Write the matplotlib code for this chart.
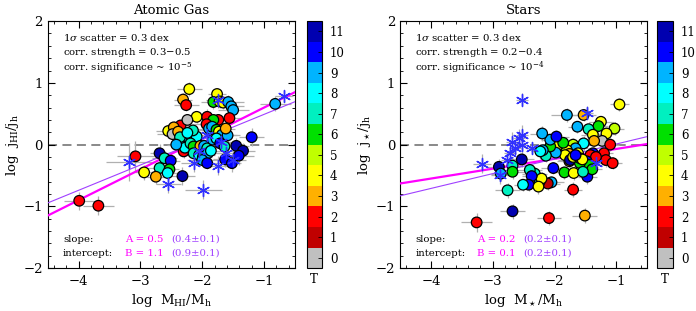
import matplotlib
matplotlib.use("Agg")
import matplotlib.pyplot as plt
from matplotlib.colors import ListedColormap, BoundaryNorm
from matplotlib.ticker import MultipleLocator
import numpy as np

plt.rcParams['font.family'] = ['DejaVu Serif']
plt.rcParams['mathtext.fontset'] = 'dejavuserif'

# ---------------- data ----------------
t_colors = ['#c0c0c0', '#c00000', '#ff0000', '#ffb000', '#ffff00', '#c0ff00',
            '#00e000', '#00f0c0', '#00ffff', '#00b4ff', '#0000ff', '#0000b0']
t_ticks = list(range(12))

# Atomic gas panel: circles
hi_x = [-2.21, -2.31, -2.26, -1.76, -1.82, -1.72, -1.66, -1.58, -1.53, -1.50,
        -2.09, -1.92, -1.74, -1.56, -1.82, -1.93, -2.35, -2.24, -2.55, -2.46,
        -2.48, -2.39, -2.21, -2.09, -2.15, -2.33, -2.31, -2.30, -2.28, -2.19,
        -2.14, -2.03, -1.97, -1.92, -2.14, -2.05, -1.99, -1.91, -2.00, -1.92,
        -1.89, -1.84, -1.77, -1.73, -1.68, -1.59, -1.62, -1.83, -1.77, -1.71,
        -1.64, -2.69, -2.61, -2.51, -2.69, -2.53, -2.56, -2.75, -2.94, -2.32,
        -3.08, -3.99, -3.68, -0.82, -1.20, -1.45, -1.34, -1.41, -1.63, -1.52,
        -1.86, -2.36, -2.24, -2.42]
hi_y = [0.90, 0.73, 0.64, 0.82, 0.69, 0.70, 0.68, 0.69, 0.62, 0.56,
        0.45, 0.45, 0.40, 0.43, 0.40, 0.33, 0.31, 0.40, 0.22, 0.28,
        0.17, 0.21, 0.14, 0.13, 0.23, 0.06, -0.03, -0.11, -0.05, 0.02,
        -0.03, -0.02, -0.02, -0.06, -0.14, -0.17, -0.20, -0.14, -0.25, -0.30,
        0.26, 0.29, 0.24, 0.21, 0.16, 0.15, 0.26, 0.08, 0.10, 0.02,
        -0.03, -0.14, -0.22, -0.26, -0.38, -0.40, -0.46, -0.52, -0.45, -0.51,
        -0.19, -0.91, -0.99, 0.66, 0.12, -0.02, -0.10, -0.18, -0.24, -0.30,
        -0.10, 0.12, 0.19, 0.00]
hi_t = [4, 3, 2, 4, 6, 5, 4, 9, 9, 9,
        4, 2, 2, 2, 6, 2, 2, 0, 4, 3,
        0, 3, 2, 8, 7, 9, 9, 2, 8, 7,
        6, 3, 9, 7, 7, 8, 6, 9, 9, 10,
        9, 9, 6, 4, 9, 9, 3, 9, 8, 10,
        7, 11, 7, 10, 7, 6, 8, 3, 4, 11,
        2, 2, 2, 9, 10, 11, 11, 10, 10, 10,
        8, 7, 8, 9]
hi_xerr = [0.20, 0.15, 0.20, 0.15, 0.20, 0.15, 0.20, 0.25, 0.20, 0.25,
           0.15, 0.20, 0.15, 0.20, 0.15, 0.20, 0.20, 0.15, 0.20, 0.15,
           0.25, 0.20, 0.20, 0.15, 0.20, 0.15, 0.20, 0.15, 0.20, 0.15,
           0.20, 0.25, 0.20, 0.15, 0.20, 0.25, 0.15, 0.20, 0.25, 0.20,
           0.20, 0.15, 0.20, 0.15, 0.25, 0.20, 0.15, 0.20, 0.15, 0.20,
           0.20, 0.15, 0.20, 0.15, 0.20, 0.15, 0.20, 0.15, 0.15, 0.20,
           0.30, 0.25, 0.25, 0.25, 0.20, 0.20, 0.20, 0.25, 0.20, 0.15,
           0.20, 0.15, 0.20, 0.15]
hi_yerr = [0.12, 0.10, 0.10, 0.10, 0.12, 0.10, 0.10, 0.12, 0.10, 0.10,
           0.10, 0.12, 0.10, 0.10, 0.10, 0.12, 0.10, 0.10, 0.12, 0.10,
           0.10, 0.10, 0.12, 0.10, 0.10, 0.12, 0.10, 0.10, 0.12, 0.10,
           0.10, 0.12, 0.10, 0.10, 0.12, 0.10, 0.10, 0.12, 0.10, 0.10,
           0.10, 0.12, 0.10, 0.10, 0.12, 0.10, 0.10, 0.12, 0.10, 0.10,
           0.12, 0.15, 0.12, 0.12, 0.12, 0.15, 0.12, 0.12, 0.12, 0.15,
           0.25, 0.15, 0.15, 0.12, 0.15, 0.12, 0.12, 0.15, 0.12, 0.15,
           0.10, 0.10, 0.12, 0.10]

# Atomic gas panel: asterisks
hi_sx = [-3.18, -2.55, -1.98, -0.68, -1.74, -1.74, -2.14, -1.92, -1.69, -1.50, -1.61, -2.05]
hi_sy = [-0.28, -0.64, -0.73, 0.79, 0.72, -0.34, -0.30, 0.16, 0.05, -0.25, -0.14, -0.11]
hi_sxerr = [0.37, 0.20, 0.30, 0.15, 0.20, 0.20, 0.20, 0.15, 0.20, 0.20, 0.15, 0.20]
hi_syerr = [0.31, 0.15, 0.15, 0.10, 0.12, 0.15, 0.15, 0.12, 0.12, 0.15, 0.12, 0.12]

# Stars panel: circles
st_x = [-0.95, -1.03, -1.25, -1.29, -1.53, -1.45, -1.38, -1.16, -1.23, -1.10,
        -1.20, -1.17, -1.06, -1.36, -1.53, -1.38, -1.42, -1.33, -1.48, -1.49,
        -1.47, -1.44, -1.39, -1.59, -1.70, -1.66, -1.62, -1.59, -1.55, -1.80,
        -1.63, -1.80, -1.76, -1.76, -1.83, -1.75, -1.70, -1.66, -1.94, -1.86,
        -1.98, -2.07, -2.07, -1.97, -2.20, -2.14, -2.19, -2.23, -2.02, -1.84,
        -1.69, -1.54, -2.05, -1.70, -2.11, -2.32, -2.24, -2.21, -2.40, -2.37,
        -2.42, -2.51, -2.26, -2.53, -2.68, -2.68, -2.90, -2.87, -2.76, -2.68,
        -3.26, -2.09, -1.51]
st_y = [0.65, 0.26, 0.37, 0.30, 0.48, 0.25, 0.16, 0.18, 0.06, 0.00,
        -0.14, -0.25, -0.30, 0.06, 0.02, -0.14, -0.17, -0.20, -0.27, -0.36,
        -0.52, -0.33, -0.40, -0.30, 0.00, -0.06, -0.14, -0.22, -0.24, 0.48,
        0.29, -0.09, -0.15, -0.27, -0.17, -0.25, -0.20, -0.17, 0.00, 0.03,
        -0.13, -0.03, 0.08, 0.13, 0.18, -0.18, -0.09, -0.11, -0.38, -0.45,
        -0.46, -0.44, -0.61, -0.73, -0.63, -0.47, -0.60, -0.55, -0.41, -0.51,
        -0.65, -0.65, -0.68, -0.24, -0.34, -0.44, -0.36, -0.47, -0.74, -1.08,
        -1.26, -1.19, -1.15]
st_t = [4, 5, 4, 6, 3, 7, 4, 4, 0, 2,
        2, 2, 2, 3, 8, 10, 2, 2, 10, 2,
        10, 6, 6, 6, 5, 9, 4, 4, 4, 9,
        9, 4, 3, 3, 4, 11, 4, 10, 4, 6,
        9, 6, 9, 10, 9, 7, 9, 8, 10, 6,
        4, 7, 9, 2, 1, 7, 7, 4, 7, 10,
        10, 8, 4, 11, 7, 6, 11, 9, 7, 11,
        2, 2, 3]
st_xerr = [0.15, 0.15, 0.20, 0.15, 0.20, 0.15, 0.20, 0.15, 0.15, 0.15,
           0.15, 0.20, 0.15, 0.20, 0.15, 0.20, 0.15, 0.20, 0.15, 0.20,
           0.15, 0.20, 0.15, 0.20, 0.15, 0.20, 0.15, 0.20, 0.15, 0.25,
           0.15, 0.20, 0.15, 0.20, 0.15, 0.20, 0.15, 0.20, 0.15, 0.20,
           0.15, 0.20, 0.15, 0.20, 0.20, 0.15, 0.20, 0.15, 0.20, 0.15,
           0.20, 0.15, 0.20, 0.15, 0.20, 0.20, 0.15, 0.20, 0.20, 0.15,
           0.20, 0.15, 0.20, 0.20, 0.15, 0.20, 0.20, 0.15, 0.20, 0.20,
           0.25, 0.20, 0.20]
st_yerr = [0.10, 0.10, 0.10, 0.12, 0.10, 0.12, 0.10, 0.10, 0.12, 0.10,
           0.10, 0.12, 0.10, 0.10, 0.12, 0.10, 0.10, 0.12, 0.10, 0.10,
           0.12, 0.10, 0.10, 0.12, 0.10, 0.10, 0.12, 0.10, 0.10, 0.12,
           0.10, 0.10, 0.12, 0.10, 0.10, 0.12, 0.10, 0.10, 0.12, 0.10,
           0.10, 0.12, 0.10, 0.10, 0.12, 0.10, 0.10, 0.12, 0.10, 0.10,
           0.12, 0.10, 0.10, 0.12, 0.10, 0.10, 0.12, 0.10, 0.10, 0.12,
           0.10, 0.10, 0.12, 0.12, 0.12, 0.12, 0.12, 0.12, 0.12, 0.12,
           0.15, 0.12, 0.12]

# Stars panel: asterisks
st_sx = [-2.53, -1.48, -3.17, -2.88, -2.69, -2.72, -2.53, -2.53, -2.37, -2.77, -2.57, -1.33, -2.64]
st_sy = [0.73, 0.52, -0.31, -0.49, 0.05, -0.14, 0.16, 0.00, -0.06, -0.25, 0.10, -0.29, -0.06]
st_sxerr = [0.10, 0.10, 0.15, 0.15, 0.10, 0.10, 0.10, 0.10, 0.10, 0.10, 0.10, 0.10, 0.10]
st_syerr = [0.10, 0.10, 0.15, 0.15, 0.15, 0.15, 0.15, 0.15, 0.10, 0.15, 0.15, 0.10, 0.10]

# fits: (slope, intercept) thick magenta and thin purple
hi_fit = (0.5, 1.1)
hi_fit2 = (0.41, 0.90)
st_fit = (0.16, 0.09)
st_fit2 = (0.24, 0.25)

panels = [
    dict(title='Atomic Gas', x=hi_x, y=hi_y, t=hi_t, xe=hi_xerr, ye=hi_yerr,
         sx=hi_sx, sy=hi_sy, sxe=hi_sxerr, sye=hi_syerr, fit=hi_fit, fit2=hi_fit2,
         xlabel=r'log  M$_{\rm HI}$/M$_{\rm h}$', ylabel=r'log  j$_{\rm HI}$/j$_{\rm h}$',
         lines=[r'1$\sigma$ scatter = 0.3 dex', 'corr. strength = 0.3$-$0.5',
                r'corr. significance ~ 10$^{-5}$'],
         A='A = 0.5', Ae='(0.4±0.1)', B='B = 1.1', Be='(0.9±0.1)', xa=0.313, xb=0.498,
         ax_rect=[0.0685, 0.138, 0.3553, 0.794], cb_rect=[0.4407, 0.138, 0.0216, 0.794]),
    dict(title='Stars', x=st_x, y=st_y, t=st_t, xe=st_xerr, ye=st_yerr,
         sx=st_sx, sy=st_sy, sxe=st_sxerr, sye=st_syerr, fit=st_fit, fit2=st_fit2,
         xlabel=r'log  M$_\star$/M$_{\rm h}$', ylabel=r'log  j$_\star$/j$_{\rm h}$',
         lines=[r'1$\sigma$ scatter = 0.3 dex', 'corr. strength = 0.2$-$0.4',
                r'corr. significance ~ 10$^{-4}$'],
         A='A = 0.2', Ae='(0.2±0.1)', B='B = 0.1', Be='(0.2±0.1)', xa=0.313, xb=0.497,
         ax_rect=[0.5747, 0.138, 0.3553, 0.794], cb_rect=[0.9435, 0.138, 0.023, 0.794]),
]

cmap = ListedColormap(t_colors)
norm = BoundaryNorm(np.arange(-0.5, 12.5, 1), cmap.N)

fig = plt.figure(figsize=(6.96, 3.11), dpi=100)
fs_txt = 7.3

for p in panels:
    ax = fig.add_axes(p['ax_rect'])
    ax.set_xlim(-4.5, -0.5)
    ax.set_ylim(-2, 2)
    ax.axhline(0, color='#808080', lw=1.3, ls=(0, (5, 3)), zorder=1)
    ax.errorbar(p['x'], p['y'], xerr=p['xe'], yerr=p['ye'], fmt='none',
                ecolor='#b0b0b0', elinewidth=0.9, capsize=0, zorder=2)
    ax.errorbar(p['sx'], p['sy'], xerr=p['sxe'], yerr=p['sye'], fmt='none',
                ecolor='#b0b0b0', elinewidth=0.9, capsize=0, zorder=2)
    xx = np.array([-4.5, -0.5])
    ax.plot(xx, p['fit'][0] * xx + p['fit'][1], color='#ff00ff', lw=1.6, zorder=3)
    ax.plot(xx, p['fit2'][0] * xx + p['fit2'][1], color='#a040ff', lw=0.8, zorder=3)
    ax.scatter(p['x'], p['y'], c=p['t'], cmap=cmap, norm=norm, s=58,
               edgecolors='black', linewidths=0.9, zorder=4)
    ax.scatter(p['sx'], p['sy'], marker=(6, 2, 0), s=75, color='#3030ff',
               linewidths=1.0, zorder=5)

    ax.xaxis.set_major_locator(MultipleLocator(1))
    ax.xaxis.set_minor_locator(MultipleLocator(0.2))
    ax.yaxis.set_major_locator(MultipleLocator(1))
    ax.yaxis.set_minor_locator(MultipleLocator(0.2))
    ax.tick_params(which='both', direction='in', top=True, right=True, labelsize=9.5)
    ax.tick_params(which='major', length=5, width=0.8)
    ax.tick_params(which='minor', length=2.5, width=0.6)
    ax.tick_params(axis='x', pad=5)
    for s in ax.spines.values():
        s.set_linewidth(0.8)
    ax.set_title(p['title'], fontsize=9.5, pad=5)
    ax.set_xlabel(p['xlabel'], fontsize=9.5, labelpad=3)
    ax.set_ylabel(p['ylabel'], fontsize=9.5, labelpad=2)

    for i, s in enumerate(p['lines']):
        ax.text(0.062, 0.935 - 0.062 * i, s, transform=ax.transAxes, fontsize=fs_txt,
                va='center', ha='left')
    ax.text(0.062, 0.117, 'slope:', transform=ax.transAxes, fontsize=fs_txt, va='center')
    ax.text(0.062, 0.061, 'intercept:', transform=ax.transAxes, fontsize=fs_txt, va='center')
    ax.text(p['xa'], 0.117, p['A'], transform=ax.transAxes, fontsize=fs_txt, va='center', color='#ff00ff')
    ax.text(p['xa'], 0.061, p['B'], transform=ax.transAxes, fontsize=fs_txt, va='center', color='#ff00ff')
    ax.text(p['xb'], 0.117, p['Ae'], transform=ax.transAxes, fontsize=fs_txt, va='center', color='#a040ff')
    ax.text(p['xb'], 0.061, p['Be'], transform=ax.transAxes, fontsize=fs_txt, va='center', color='#a040ff')

    cax = fig.add_axes(p['cb_rect'])
    cb = matplotlib.colorbar.ColorbarBase(cax, cmap=cmap, norm=norm, ticks=t_ticks,
                                          boundaries=np.arange(-0.5, 12.5, 1))
    cb.outline.set_linewidth(0.8)
    cax.tick_params(direction='in', length=3, width=0.6, labelsize=8.5, pad=6)
    cax.minorticks_off()
    cax.text(0.5, -0.02, 'T', transform=cax.transAxes, ha='center', va='top', fontsize=8.5)

fig.savefig('out.png', dpi=100)
